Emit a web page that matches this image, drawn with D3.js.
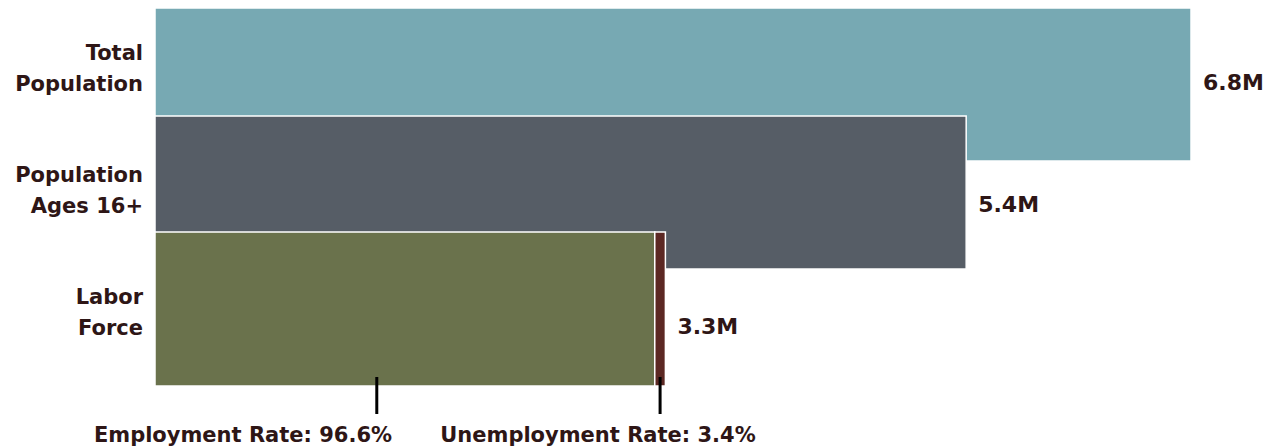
<!DOCTYPE html>
<html>
<head>
<meta charset="utf-8">
<script src="https://cdnjs.cloudflare.com/ajax/libs/d3/7.8.5/d3.min.js"></script>
<style>
  body { margin: 0; background: #fff; }
  text { font-family: "DejaVu Sans", sans-serif; font-weight: 700; fill: #2e1616; }
</style>
</head>
<body>
<div id="chart"></div>
<script>
// categories and values (millions)
const categories = ['Total Population', 'Population Ages 16+', 'Labor Force']
const catLines = [['Total', 'Population'], ['Population', 'Ages 16+'], ['Labor', 'Force']]
const values = [6.82, 5.34, 3.36]
const valueLabels = ['6.8M', '5.4M', '3.3M']
const colors = ['#77a9b3', '#565d66']

// labor force split
const employed = 3.29
const unemployed = 0.07
const rateLabels = ['Employment Rate: 96.6%', 'Unemployment Rate: 3.4%']
const rateTicks = [1.46, employed + unemployed / 2]

const width = 1276
const height = 448

const svg = d3.select('#chart')
  .append('svg')
  .attr('width', width)
  .attr('height', height)

const x = d3.scaleLinear()
  .domain([0, values[0]])
  .range([155, 1191])

const y = d3.scaleBand()
  .domain(categories)
  .range([6, 345])

const barH = 153

// category label / value label centres
const labelY = d3.scalePoint().domain(categories).range([67, 311])
const valueY = d3.scalePoint().domain(categories).range([82, 326])

// first two bars
svg.selectAll('rect.bar')
  .data(categories.slice(0, 2))
  .enter()
  .append('rect')
  .attr('class', 'bar')
  .attr('x', x(0))
  .attr('y', (d, i) => y(d) + (i === 0 ? 2 : -3))
  .attr('width', (d, i) => x(values[i]) - x(0))
  .attr('height', barH)
  .attr('fill', (d, i) => colors[i])
  .attr('stroke', '#fff')
  .attr('stroke-width', 1.5)

// labor force: employed + unemployed
const lf = categories[2]
svg.append('rect')
  .attr('x', x(0))
  .attr('y', y(lf))
  .attr('width', x(employed) - x(0))
  .attr('height', barH + 1)
  .attr('fill', '#6a724c')
  .attr('stroke', '#fff')
  .attr('stroke-width', 1.5)

svg.append('rect')
  .attr('x', x(employed))
  .attr('y', y(lf))
  .attr('width', x(employed + unemployed) - x(employed))
  .attr('height', barH + 1)
  .attr('fill', '#5c2823')
  .attr('stroke', '#fff')
  .attr('stroke-width', 1.5)

// category labels
const catText = svg.selectAll('text.cat')
  .data(categories)
  .enter()
  .append('text')
  .attr('class', 'cat')
  .attr('text-anchor', 'end')
  .style('font-size', '21px')

catText.each(function(d, i) {
  const t = d3.select(this)
  catLines[i].forEach((line, j) => {
    t.append('tspan')
      .attr('x', 143)
      .attr('y', labelY(d) + (j === 0 ? -7 : 24))
      .text(line)
  })
})

// value labels
svg.selectAll('text.val')
  .data(categories)
  .enter()
  .append('text')
  .attr('class', 'val')
  .attr('x', (d, i) => x(values[i]) + 12)
  .attr('y', d => valueY(d) + 8)
  .style('font-size', '22px')
  .text((d, i) => valueLabels[i])

// rate ticks
svg.selectAll('line.tick')
  .data(rateTicks)
  .enter()
  .append('line')
  .attr('x1', d => x(d))
  .attr('x2', d => x(d))
  .attr('y1', 377)
  .attr('y2', 414)
  .attr('stroke', '#000')
  .attr('stroke-width', 3)

// rate labels
const rateLabelX = [243, 598]
svg.selectAll('text.rate')
  .data(rateLabels)
  .enter()
  .append('text')
  .attr('class', 'rate')
  .attr('x', (d, i) => rateLabelX[i])
  .attr('y', 442)
  .attr('text-anchor', 'middle')
  .style('font-size', '21px')
  .text(d => d)
</script>
</body>
</html>
